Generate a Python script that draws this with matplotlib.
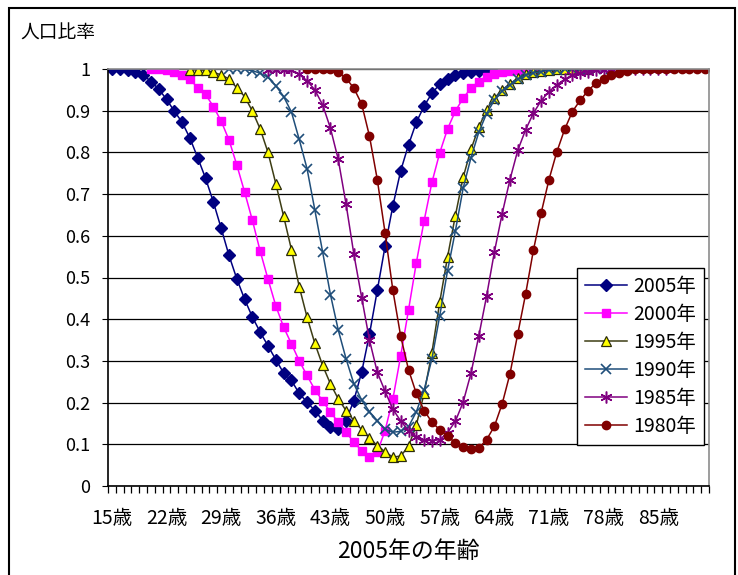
import numpy as np
import matplotlib
matplotlib.use("Agg")
import matplotlib.pyplot as plt
from matplotlib.patches import Rectangle

plt.rcParams["font.family"] = ["Noto Sans CJK JP", "DejaVu Sans"]

# age categories on the x axis (age in 2005)
ages = list(range(15, 92))
age_labels = [f"{a}歳" for a in ages]

# each cohort covers 52 consecutive ages, starting at a different age
start_2005 = 15
ratio_2005 = [1.0, 1.0, 0.998, 0.994, 0.986, 0.970, 0.952, 0.927, 0.899, 0.872,
              0.834, 0.787, 0.738, 0.681, 0.618, 0.553, 0.497, 0.448, 0.405, 0.369,
              0.336, 0.303, 0.271, 0.253, 0.222, 0.201, 0.181, 0.157, 0.141, 0.137,
              0.157, 0.205, 0.273, 0.364, 0.469, 0.575, 0.672, 0.756, 0.818, 0.872,
              0.911, 0.942, 0.963, 0.977, 0.986, 0.991, 0.994, 0.996, 0.998, 1.0,
              1.0, 1.0]

start_2000 = 20
ratio_2000 = [1.0, 1.0, 0.998, 0.994, 0.986, 0.975, 0.955, 0.939, 0.910, 0.875,
              0.830, 0.770, 0.705, 0.637, 0.563, 0.496, 0.432, 0.381, 0.341, 0.300,
              0.265, 0.231, 0.204, 0.177, 0.153, 0.129, 0.105, 0.085, 0.069, 0.081,
              0.133, 0.209, 0.312, 0.422, 0.535, 0.636, 0.728, 0.799, 0.856, 0.899,
              0.930, 0.954, 0.970, 0.980, 0.988, 0.994, 0.996, 0.998, 0.999, 1.0,
              1.0, 1.0]

start_1995 = 25
ratio_1995 = [0.998, 0.998, 0.997, 0.992, 0.986, 0.976, 0.955, 0.934, 0.899, 0.856,
              0.800, 0.725, 0.647, 0.567, 0.478, 0.405, 0.342, 0.289, 0.245, 0.209,
              0.181, 0.157, 0.135, 0.115, 0.097, 0.082, 0.069, 0.072, 0.095, 0.146,
              0.222, 0.320, 0.441, 0.549, 0.648, 0.740, 0.807, 0.860, 0.902, 0.930,
              0.950, 0.964, 0.978, 0.988, 0.993, 0.996, 0.998, 0.999, 1.0, 1.0,
              1.0, 1.0]

start_1990 = 30
ratio_1990 = [1.0, 1.0, 0.999, 0.996, 0.990, 0.980, 0.960, 0.934, 0.897, 0.831,
              0.761, 0.662, 0.561, 0.459, 0.374, 0.305, 0.245, 0.206, 0.178, 0.157,
              0.136, 0.129, 0.131, 0.142, 0.178, 0.230, 0.305, 0.408, 0.516, 0.611,
              0.714, 0.787, 0.848, 0.893, 0.925, 0.947, 0.962, 0.975, 0.985, 0.990,
              0.994, 0.997, 0.998, 1.0, 1.0, 1.0, 1.0, 1.0, 1.0, 1.0,
              1.0, 1.0]

start_1985 = 35
ratio_1985 = [0.998, 0.998, 0.998, 0.997, 0.987, 0.972, 0.950, 0.914, 0.858, 0.783,
              0.676, 0.556, 0.452, 0.350, 0.273, 0.227, 0.184, 0.156, 0.133, 0.118,
              0.110, 0.109, 0.111, 0.128, 0.155, 0.201, 0.270, 0.359, 0.455, 0.561,
              0.653, 0.735, 0.805, 0.854, 0.894, 0.924, 0.946, 0.962, 0.975, 0.986,
              0.990, 0.994, 0.997, 0.998, 1.0, 1.0, 1.0, 1.0, 1.0, 1.0,
              1.0, 1.0]

start_1980 = 40
ratio_1980 = [1.0, 1.0, 1.0, 0.999, 0.992, 0.978, 0.954, 0.916, 0.839, 0.735,
              0.607, 0.469, 0.359, 0.279, 0.222, 0.181, 0.153, 0.135, 0.119, 0.104,
              0.094, 0.088, 0.091, 0.111, 0.143, 0.197, 0.269, 0.365, 0.460, 0.565,
              0.655, 0.735, 0.801, 0.855, 0.898, 0.925, 0.948, 0.966, 0.976, 0.986,
              0.991, 0.996, 0.999, 1.0, 1.0, 1.0, 1.0, 1.0, 1.0, 1.0,
              1.0, 1.0]

series = [
    ("2005年", start_2005, ratio_2005, dict(color="#000080", marker="D", ms=6,
                                           mfc="#000080", mec="#000080")),
    ("2000年", start_2000, ratio_2000, dict(color="#FF00FF", marker="s", ms=6,
                                           mfc="#FF00FF", mec="#FF00FF")),
    ("1995年", start_1995, ratio_1995, dict(color="#3d3d14", marker="^", ms=7.5,
                                           mfc="#FFFF00", mec="#2b2b0a", mew=0.9)),
    ("1990年", start_1990, ratio_1990, dict(color="#1F4E7A", marker="x", ms=7.5,
                                           mec="#1F4E7A", mew=1.2)),
    ("1985年", start_1985, ratio_1985, dict(color="#800080", marker=(6, 2, 0), ms=8.5,
                                           mec="#800080", mew=1.1)),
    ("1980年", start_1980, ratio_1980, dict(color="#800000", marker="o", ms=6,
                                           mfc="#800000", mec="#800000")),
]

W, H = 738, 575
fig = plt.figure(figsize=(W / 100, H / 100), dpi=100)
ax = fig.add_axes([108 / W, 1 - 486 / H, (709 - 108) / W, (486 - 69) / H])

for label, start, vals, style in series:
    x = np.arange(len(vals)) + (start - ages[0])
    ax.plot(x, vals, label=label, lw=1.1, **style)

ax.set_xlim(-0.5, len(ages) - 0.5)
ax.set_ylim(0, 1)

# y axis: gridlines every 0.1
yticks = np.round(np.arange(0, 1.01, 0.1), 1)
ax.set_yticks(yticks)
ax.set_yticklabels(["0" if v == 0 else ("1" if v == 1 else f"{v:.1f}") for v in yticks])
ax.yaxis.grid(True, color="black", lw=0.9)
ax.set_axisbelow(True)
ax.tick_params(axis="y", direction="out", length=4, pad=9, labelsize=13)

# x axis: tick marks between categories, labels every 7 years
ax.set_xticks(np.arange(-0.5, len(ages), 1), minor=True)
major = list(range(0, len(ages), 7))
ax.set_xticks(major)
ax.set_xticklabels([age_labels[i] for i in major])
ax.tick_params(axis="x", which="minor", direction="out", length=5, width=0.9)
ax.tick_params(axis="x", which="major", length=0, pad=16, labelsize=14)

for side in ("left", "bottom"):
    ax.spines[side].set_color("black")
    ax.spines[side].set_linewidth(1.2)
for side in ("top", "right"):
    ax.spines[side].set_color("#8c8c8c")
    ax.spines[side].set_linewidth(1.2)

fig.text(20 / W, 1 - 33 / H, "人口比率", fontsize=13.5, ha="left", va="center")
fig.text(408 / W, 1 - 551 / H, "2005年の年齢", fontsize=16.5, ha="center", va="center")

leg = ax.legend(loc="upper right", bbox_to_anchor=(704 / W, 1 - 268 / H),
                bbox_transform=fig.transFigure, borderaxespad=0, fontsize=14,
                fancybox=False, framealpha=1, edgecolor="black",
                handlelength=2.2, handletextpad=0.3, labelspacing=0.36,
                borderpad=0.4)
leg.get_frame().set_linewidth(1.0)

# outer chart frame
fig.add_artist(Rectangle((9 / W, -0.05), (735 - 9) / W, 1.05 - 8 / H,
                         transform=fig.transFigure, fill=False,
                         edgecolor="black", lw=1.5))

fig.savefig("out.png", dpi=100)
